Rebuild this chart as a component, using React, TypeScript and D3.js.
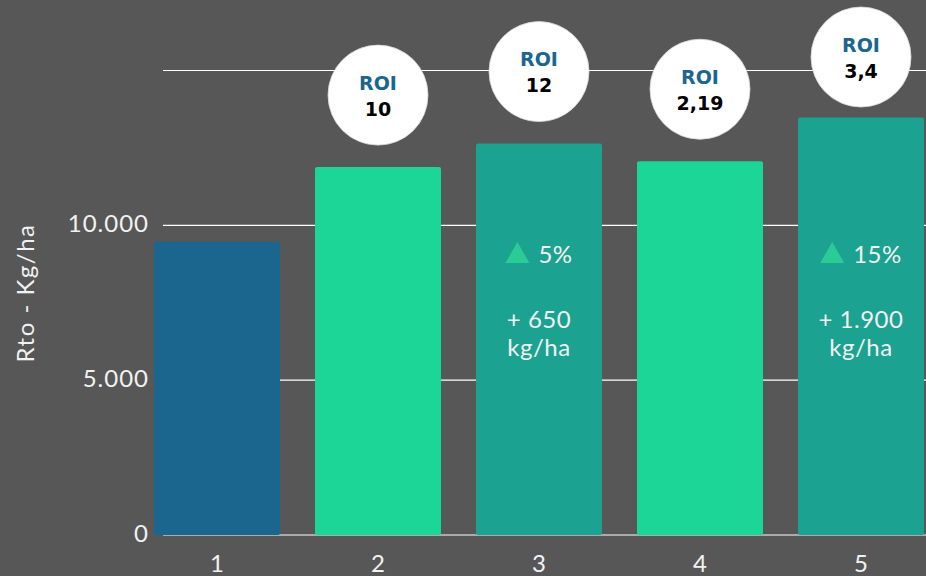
import React from "react";
import * as d3 from "d3";

// Yield per treatment (kg/ha)
const categories = ["1", "2", "3", "4", "5"];
const yields = [9470, 11880, 12640, 12070, 13480];
const barKinds = ["base", "treated", "combo", "treated", "combo"];
const roiValues = ["", "10", "12", "2,19", "3,4"];
const gainPercent = ["", "", "5%", "", "15%"];
const gainKg = ["", "", "+ 650", "", "+ 1.900"];
const gridValues = [0, 5000, 10000, 15000];
const tickValues = [0, 5000, 10000];
const yTitle = "Rto - Kg/ha";

const W = 926;
const H = 576;
const BG = "#575757";
const palette: Record<string, string> = {
  base: "#1a668f",
  treated: "#1bd696",
  combo: "#1ba291",
};
const FONT = "Lato, 'Open Sans', sans-serif";
const BADGE_FONT = "'DejaVu Sans', Verdana, sans-serif";
const LABEL = "#f2f2f2";

const locale = d3.formatLocale({
  decimal: ",",
  thousands: ".",
  grouping: [3],
  currency: ["", ""],
});
const fmt = locale.format(",d");

let measureCtx: CanvasRenderingContext2D | null = null;
function textWidth(s: string, font: string, spacing = 0): number {
  if (!measureCtx) {
    const c = document.createElement("canvas");
    measureCtx = c.getContext("2d");
  }
  if (!measureCtx) return s.length * 12;
  measureCtx.font = font;
  return measureCtx.measureText(s).width + spacing * s.length;
}

export default function App() {
  const x = d3.scalePoint<string>().domain(categories).range([217, 861]);
  const y = d3.scaleLinear().domain([0, 15000]).range([535, 70.5]);
  const barW = 126;
  const r = 50;
  const fs = 24;
  const ls = 1;

  return (
    <svg
      width={W}
      height={H}
      style={{ position: "absolute", left: 0, top: 0, background: BG }}
    >
      <rect x={0} y={0} width={W} height={H} fill={BG} />

      {/* horizontal grid */}
      {gridValues.map((v) => (
        <line
          key={"g" + v}
          x1={163}
          x2={W}
          y1={y(v)}
          y2={y(v)}
          stroke="#ffffff"
          strokeWidth={1.2}
        />
      ))}

      {/* y tick labels */}
      {tickValues.map((v) => (
        <text
          key={"t" + v}
          x={149}
          y={y(v) - 3}
          textAnchor="end"
          dominantBaseline="central"
          fill={LABEL}
          fontFamily={FONT}
          fontSize={fs}
          letterSpacing={ls}
        >
          {fmt(v)}
        </text>
      ))}

      {/* y axis title */}
      <text
        transform={`translate(24,293) rotate(-90)`}
        textAnchor="middle"
        dominantBaseline="central"
        fill={LABEL}
        fontFamily={FONT}
        fontSize={fs}
        letterSpacing={1.5}
      >
        {yTitle}
      </text>

      {/* bars */}
      {categories.map((c, i) => {
        const cx = x(c)!;
        const top = y(yields[i]);
        return (
          <rect
            key={"b" + c}
            x={cx - barW / 2}
            y={top}
            width={barW}
            height={y(0) - top}
            rx={2}
            fill={palette[barKinds[i]]}
          />
        );
      })}

      {/* x labels */}
      {categories.map((c) => (
        <text
          key={"x" + c}
          x={x(c)!}
          y={562}
          textAnchor="middle"
          dominantBaseline="central"
          fill={LABEL}
          fontFamily={FONT}
          fontSize={fs}
        >
          {c}
        </text>
      ))}

      {/* in-bar gain annotations */}
      {categories.map((c, i) => {
        if (!gainPercent[i]) return null;
        const cx = x(c)!;
        const triW = 24;
        const triH = 21;
        const gap = 9;
        const tw = textWidth(gainPercent[i], `${fs}px Lato`, 0.5);
        const total = triW + gap + tw;
        const left = cx - total / 2;
        const base = 263;
        return (
          <g key={"a" + c}>
            <path
              d={`M${left},${base} L${left + triW / 2},${base - triH} L${left + triW},${base} Z`}
              fill="#2bcb95"
            />
            <text
              x={left + triW + gap}
              y={base}
              fill={LABEL}
              fontFamily={FONT}
              fontSize={fs}
              letterSpacing={0.5}
            >
              {gainPercent[i]}
            </text>
            <text
              x={cx}
              y={328}
              textAnchor="middle"
              fill={LABEL}
              fontFamily={FONT}
              fontSize={fs}
              letterSpacing={0.5}
            >
              {gainKg[i]}
            </text>
            <text
              x={cx}
              y={356}
              textAnchor="middle"
              fill={LABEL}
              fontFamily={FONT}
              fontSize={fs}
              letterSpacing={0.5}
            >
              kg/ha
            </text>
          </g>
        );
      })}

      {/* ROI badges */}
      {categories.map((c, i) => {
        if (!roiValues[i]) return null;
        const cx = x(c)!;
        const cy = Math.max(57, y(yields[i]) - 72);
        return (
          <g key={"r" + c}>
            <circle cx={cx} cy={cy} r={r} fill="#ffffff" stroke="#d9d9d9" strokeWidth={0.8} />
            <text
              x={cx}
              y={cy - 5.5}
              textAnchor="middle"
              fill="#1a668f"
              fontFamily={BADGE_FONT}
              fontWeight={700}
              fontSize={19}
            >
              ROI
            </text>
            <text
              x={cx}
              y={cy + 20.5}
              textAnchor="middle"
              fill="#000000"
              fontFamily={BADGE_FONT}
              fontWeight={700}
              fontSize={19}
            >
              {roiValues[i]}
            </text>
          </g>
        );
      })}
    </svg>
  );
}
